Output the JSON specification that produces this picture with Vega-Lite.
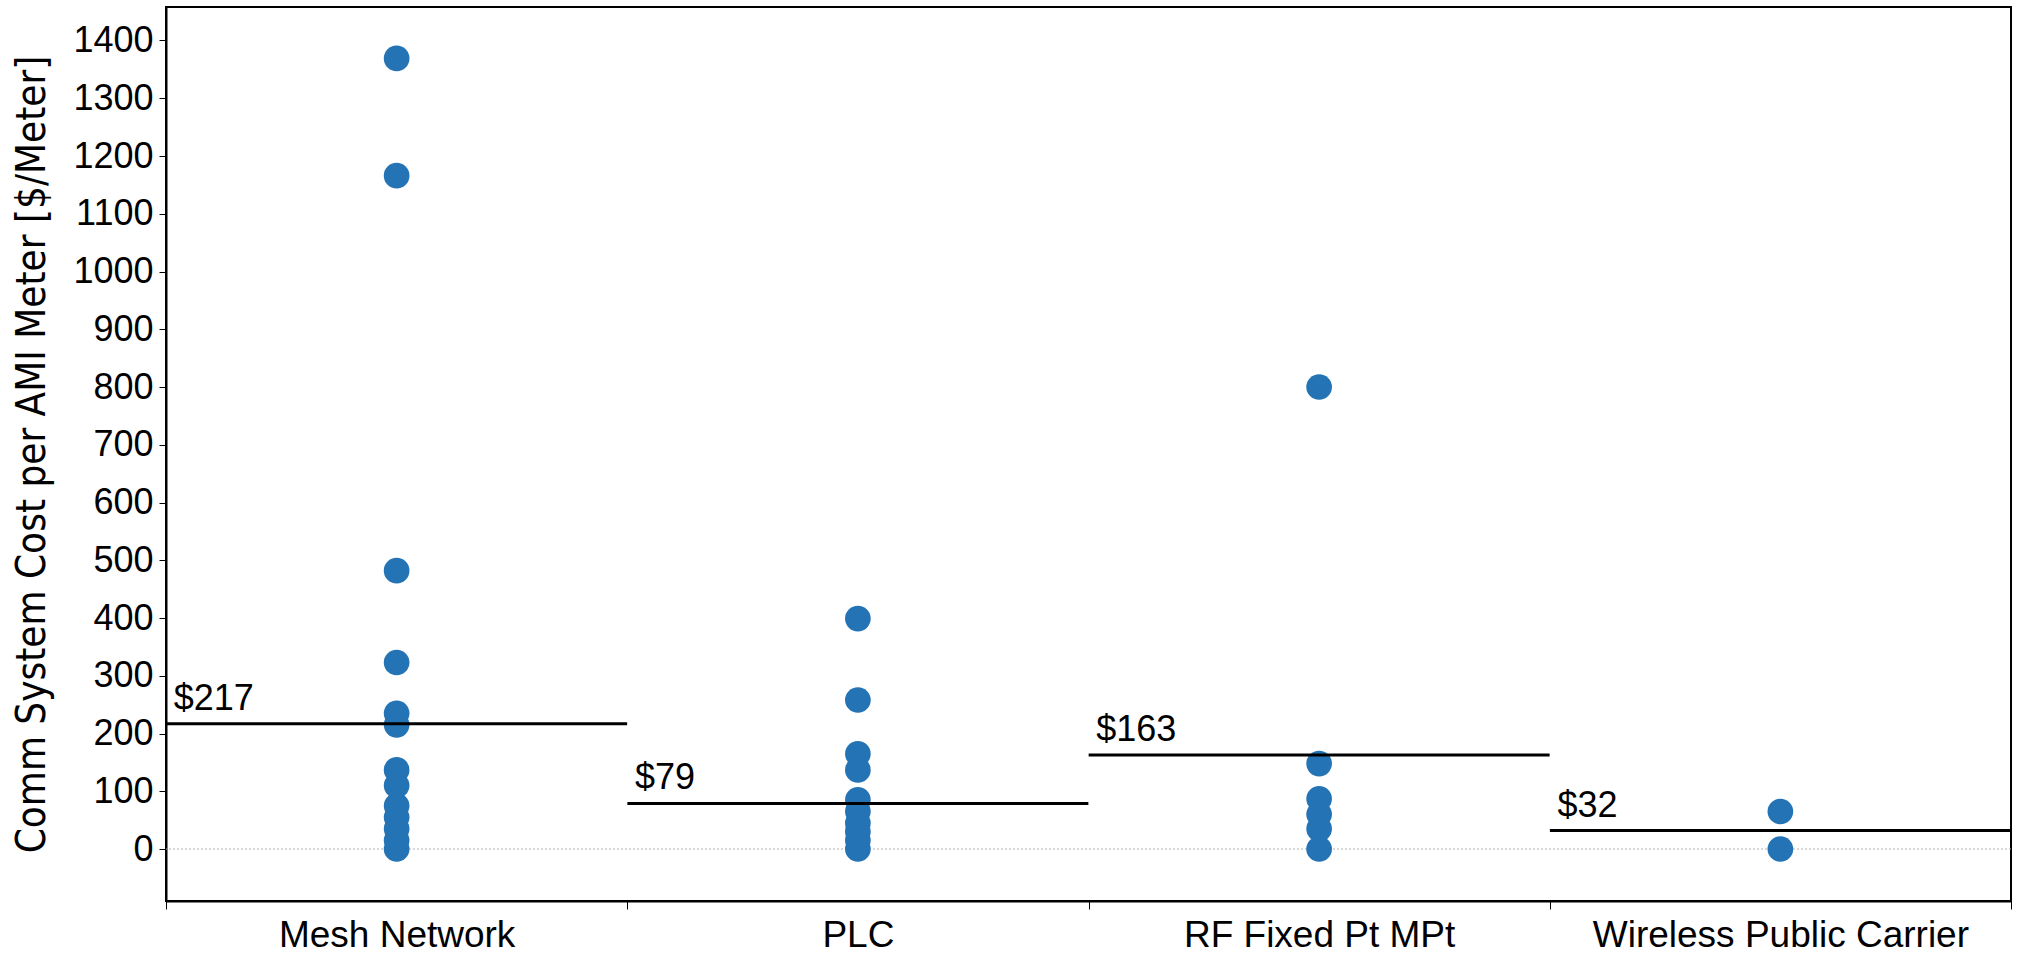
{
  "$schema": "https://vega.github.io/schema/vega-lite/v6.json",
  "autosize": "none",
  "width": 1845,
  "height": 894,
  "padding": {"left": 166, "top": 7, "right": 17, "bottom": 63},
  "background": "white",
  "config": {
    "view": {"stroke": "black", "strokeWidth": 2},
    "font": "Liberation Sans"
  },
  "datasets": {
    "points": [
      {"tech": "Mesh Network", "cost": 1369},
      {"tech": "Mesh Network", "cost": 1166},
      {"tech": "Mesh Network", "cost": 482},
      {"tech": "Mesh Network", "cost": 323},
      {"tech": "Mesh Network", "cost": 235},
      {"tech": "Mesh Network", "cost": 215},
      {"tech": "Mesh Network", "cost": 137},
      {"tech": "Mesh Network", "cost": 110},
      {"tech": "Mesh Network", "cost": 75},
      {"tech": "Mesh Network", "cost": 55},
      {"tech": "Mesh Network", "cost": 35},
      {"tech": "Mesh Network", "cost": 15},
      {"tech": "Mesh Network", "cost": 0},
      {"tech": "PLC", "cost": 399},
      {"tech": "PLC", "cost": 258},
      {"tech": "PLC", "cost": 165},
      {"tech": "PLC", "cost": 137},
      {"tech": "PLC", "cost": 85},
      {"tech": "PLC", "cost": 65},
      {"tech": "PLC", "cost": 45},
      {"tech": "PLC", "cost": 30},
      {"tech": "PLC", "cost": 15},
      {"tech": "PLC", "cost": 0},
      {"tech": "RF Fixed Pt MPt", "cost": 800},
      {"tech": "RF Fixed Pt MPt", "cost": 148},
      {"tech": "RF Fixed Pt MPt", "cost": 87},
      {"tech": "RF Fixed Pt MPt", "cost": 60},
      {"tech": "RF Fixed Pt MPt", "cost": 35},
      {"tech": "RF Fixed Pt MPt", "cost": 0},
      {"tech": "Wireless Public Carrier", "cost": 65},
      {"tech": "Wireless Public Carrier", "cost": 0}
    ],
    "means": [
      {"tech": "Mesh Network", "mean": 217, "label": "$217"},
      {"tech": "PLC", "mean": 79, "label": "$79"},
      {"tech": "RF Fixed Pt MPt", "mean": 163, "label": "$163"},
      {"tech": "Wireless Public Carrier", "mean": 32, "label": "$32"}
    ]
  },
  "encoding": {
    "x": {
      "field": "tech",
      "type": "nominal",
      "sort": ["Mesh Network", "PLC", "RF Fixed Pt MPt", "Wireless Public Carrier"],
      "scale": {"paddingInner": 0, "paddingOuter": 0},
      "axis": {
        "title": null,
        "labelAngle": 0,
        "labelFontSize": 37,
        "labelColor": "black",
        "labelPadding": 8,
        "labelLimit": 0,
        "tickBand": "extent",
        "tickColor": "black",
        "tickSize": 8,
        "domainColor": "black",
        "domainWidth": 2,
        "grid": false
      }
    }
  },
  "layer": [
    {
      "data": {"values": [{"z": 0}]},
      "mark": {"type": "rule", "color": "#b0b0b0", "strokeDash": [2, 2], "strokeWidth": 1},
      "encoding": {"x": null, "y": {"field": "z", "type": "quantitative"}}
    },
    {
      "data": {"name": "points"},
      "mark": {"type": "circle", "size": 660, "color": "#2474b5", "opacity": 1},
      "encoding": {
        "y": {
          "field": "cost",
          "type": "quantitative",
          "scale": {"domain": [-90, 1458], "nice": false, "zero": false},
          "axis": {
            "title": "Comm System Cost per AMI Meter [$/Meter]",
            "titleFont": "DejaVu Sans Condensed, Liberation Sans, sans-serif",
            "titleFontWeight": "normal",
            "titleFontSize": 40,
            "titleColor": "black",
            "titlePadding": 20,
            "values": [0, 100, 200, 300, 400, 500, 600, 700, 800, 900, 1000, 1100, 1200, 1300, 1400],
            "format": "d",
            "labelFontSize": 36,
            "labelColor": "black",
            "labelPadding": 6,
            "tickColor": "black",
            "tickSize": 7,
            "domainColor": "black",
            "domainWidth": 2,
            "grid": false
          }
        }
      }
    },
    {
      "data": {"name": "means"},
      "mark": {"type": "tick", "orient": "horizontal", "size": 461, "thickness": 3, "color": "black", "opacity": 1},
      "encoding": {"y": {"field": "mean", "type": "quantitative"}}
    },
    {
      "data": {"name": "means"},
      "mark": {"type": "text", "align": "left", "baseline": "bottom", "dx": -223, "dy": -6, "fontSize": 36, "color": "black"},
      "encoding": {
        "y": {"field": "mean", "type": "quantitative"},
        "text": {"field": "label"}
      }
    }
  ]
}
